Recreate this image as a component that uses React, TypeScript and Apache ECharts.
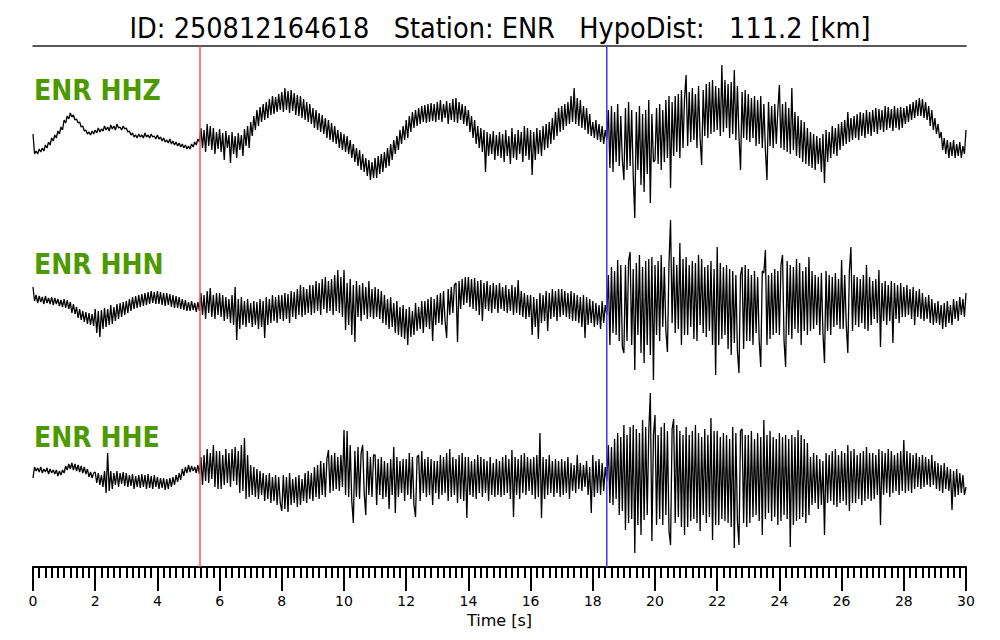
import React, { useEffect, useRef } from "react";
import * as echarts from "echarts";

// Waveform samples (relative amplitude, up = positive), one value every 0.05 s from 0 to 30 s
const SAMPLE_DT = 0.05;
const TIME_MIN = 0;
const TIME_MAX = 30;
const P_PICK = 5.37;
const S_PICK = 18.45;
const TITLE = "ID: 250812164618\u00a0\u00a0\u00a0Station: ENR\u00a0\u00a0\u00a0HypoDist:\u00a0\u00a0\u00a0111.2 [km]";
const CHANNELS = ["ENR HHZ", "ENR HHN", "ENR HHE"];

const hhz = [
  6, -14, -11, -14, -9, -12, -8, -11, -5, -8, -2, -5, 2, -1, 5, 2, 9, 6, 13, 10,
  20, 17, 24, 21, 27, 23, 25, 20, 21, 17, 18, 13, 14, 9, 10, 6, 8, 5, 9, 6,
  10, 7, 12, 8, 11, 9, 14, 10, 13, 9, 15, 11, 14, 10, 16, 12, 13, 10, 14, 11,
  12, 8, 9, 5, 7, 3, 5, 2, 6, 3, 5, 2, 7, 3, 5, 2, 6, 3, 4, 1,
  5, 1, 3, -1, 2, -2, 0, -3, 1, -4, -1, -5, -2, -6, -3, -7, -4, -8, -5, -9,
  -6, -9, -4, -7, -2, -5, 1, -2, 12, -8, 10, -12, 16, -6, 14, -10, 12, -14, 8, -9,
  11, -12, 7, -20, 9, -8, 5, -23, 8, -14, 4, -18, 7, -10, 5, -16, 11, -6, 14, -8,
  18, 4, 24, 10, 30, 14, 33, 18, 36, 20, 38, 22, 41, 25, 44, 26, 43, 28, 46, 30,
  48, 28, 52, 30, 49, 27, 50, 29, 47, 25, 45, 24, 44, 22, 41, 20, 38, 18, 36, 16,
  32, 12, 30, 10, 27, 8, 25, 6, 22, 2, 20, 0, 17, -2, 14, -4, 10, -8, 8, -10,
  6, -12, 4, -14, 0, -18, -4, -22, -8, -26, -10, -30, -14, -32, -18, -36, -20, -40, -22, -38,
  -18, -38, -16, -34, -14, -32, -12, -28, -8, -26, -4, -20, 0, -14, 4, -10, 10, -4, 14, 0,
  20, 2, 24, 8, 28, 12, 30, 14, 32, 16, 34, 18, 35, 17, 36, 18, 37, 19, 36, 18,
  38, 20, 40, 18, 36, 22, 39, 16, 37, 20, 41, 18, 42, 17, 38, 20, 36, 16, 34, 14,
  30, 8, 24, 2, 20, -4, 14, -8, 12, -12, 10, -32, 8, -16, 6, -14, 9, -20, 5, -16,
  8, -18, 6, -22, 10, -16, 4, -24, 12, -18, 6, -20, 10, -14, 8, -22, 14, -16, 12, -20,
  10, -35, 8, -20, 12, -14, 10, -16, 14, -10, 16, -8, 18, -4, 22, 0, 28, 4, 32, 8,
  34, 10, 36, 14, 38, 16, 44, 18, 52, 16, 42, 14, 40, 12, 34, 10, 32, 6, 26, 4,
  18, 2, 20, 0, 16, -2, 14, -4, 10, 0, 30, -28, 34, -32, 28, -22, 36, -26, 24, -20,
  -40, 32, -30, 38, -26, 30, -36, -78, 28, -30, 34, -45, 26, -52, 30, -34, 40, -63, 26, -22,
  -20, 32, -24, 36, -30, 30, -22, 40, -18, 44, -48, 38, -16, 44, -12, 46, -18, 50, -8, 42,
  65, -6, 48, -2, 52, 0, 46, -8, 54, 2, -25, 50, 4, 56, 2, 58, 6, 60, 8, 54,
  10, 52, 4, 75, 8, 60, 12, 56, 2, 58, 6, 70, 0, 54, 4, -30, 48, 2, 50, 0,
  46, -2, 42, 2, 44, -6, 40, -4, 44, -8, 36, -10, -40, 38, -6, 34, -8, 36, -4, 30,
  55, -8, 36, -10, 38, -12, 32, -14, 52, -10, 28, -16, 24, -18, 20, -22, 18, -24, 12, -26,
  8, -28, 6, -30, 4, -24, 2, -32, 6, -43, 10, -22, 8, -18, 14, -14, 12, -16, 16, -10,
  18, -6, 20, -4, 28, -2, 22, 0, 24, 2, 26, 0, 28, 4, 27, 2, 30, 6, 28, 4,
  30, 8, 32, 6, 31, 10, 30, 8, 34, 10, 33, 12, 31, 9, 34, 12, 32, 10, 33, 12,
  32, 16, 34, 18, 36, 20, 38, 22, 40, 24, 42, 24, 41, 22, 38, 20, 34, 14, 30, 10,
  22, 6, 16, 2, 8, -10, 2, -14, 0, -18, -2, -16, 0, -18, -4, -16, -2, -18, -6, -14,
  10,
];

const hhn = [
  18, 4, 10, 2, 9, 3, 8, 1, 9, 2, 7, 1, 8, 0, 7, 1, 6, -1, 5, -2,
  6, -3, 5, -4, 3, -8, 1, -9, -2, -13, -4, -15, -6, -17, -7, -19, -8, -20, -9, -21,
  -4, -28, -6, -32, -5, -24, -3, -22, -4, -20, 0, -19, -2, -16, 1, -14, 2, -12, 3, -10,
  4, -8, 6, -6, 8, -4, 9, -3, 10, -2, 11, -1, 12, 0, 13, 1, 14, 2, 13, 1,
  14, 1, 13, 0, 12, -1, 12, 0, 11, -2, 10, -3, 9, -3, 8, -4, 6, -5, 5, -6,
  3, -6, 4, -5, 2, -7, 3, -6, 12, -10, 10, -14, 14, -8, 17, -12, 10, -14, 12, -10,
  12, -12, 10, -16, 8, -14, 6, -18, 10, -20, 18, -35, 6, -24, 8, -20, 4, -22, 6, -18,
  2, -22, 4, -20, 3, -24, 6, -22, 4, -33, 8, -20, 6, -18, 10, -16, 8, -18, 10, -14,
  10, -16, 12, -14, 11, -18, 14, -12, 13, -14, 16, -10, 20, -12, 18, -10, 16, -8, 20, -10,
  20, -8, 24, -6, 22, -10, 26, -4, 28, -8, 24, -6, 26, -10, 30, -6, 35, -8, 28, -12,
  35, -25, 22, -20, 26, -30, 20, -37, 24, -12, 20, -16, 22, -10, 18, -14, 24, -12, 16, -14,
  18, -12, 16, -14, 14, -18, 10, -20, 6, -24, 8, -22, 2, -28, 4, -30, -2, -32, 0, -34,
  -4, -40, -2, -32, -6, -30, 2, -26, -2, -24, 4, -28, 4, -22, 6, -24, 8, -36, 6, -20,
  10, -18, 12, -20, 14, -16, -33, 16, -10, 18, -8, 20, 22, -37, 24, -4, 26, 0, 28, 2,
  28, -2, 26, -4, 27, -6, 24, -10, 25, -16, 22, -4, 24, -6, 20, -8, 22, -4, 20, -8,
  22, -4, 18, -6, 20, -8, 16, -6, 20, -10, 18, -8, 25, -10, 14, -12, 12, -14, 10, -12,
  10, -30, 8, -22, 6, -34, 12, -18, 10, -16, 14, -26, 12, -14, 16, -12, 14, -16, 16, -12,
  16, -10, 14, -12, 12, -14, 14, -16, 12, -16, 10, -18, 8, -22, 10, -33, 8, -20, 6, -18,
  4, -22, 2, -20, 0, -24, 4, -18, 0, -10, 30, -40, 38, -28, 34, -30, 45, -36, 40, -42,
  -48, 40, -36, 44, 53, -40, 36, -65, 42, -30, 50, -48, 38, -58, 44, -40, 46, -50, 48, -75,
  40, -30, 44, -36, 50, -22, 38, -26, -47, 42, 85, -18, 48, -28, 40, -24, 62, -40, 46, -30,
  48, -30, 40, -22, 44, -34, 42, -36, 50, -20, 46, -28, 38, -32, 40, -26, 44, -40, 36, -70,
  58, -40, 42, -34, 38, -30, 40, -44, 36, -50, 34, -38, 30, -46, -68, 30, 38, -44, 40, -36,
  36, -36, 30, -40, 34, -28, 28, -36, -62, 34, 32, 55, -40, 30, -34, 32, -30, 36, -28, 34,
  -30, 40, 50, -36, -62, 44, -30, 40, -34, 38, -24, 46, -28, 42, -40, 34, -26, 38, -30, 48,
  -26, 34, -24, 30, -20, 28, -30, 32, -28, -58, 34, -26, 30, -30, 28, -22, 32, -20, 26, -24,
  45, -24, 30, -20, -48, 34, 58, -26, 30, -20, 28, -22, 26, -18, 30, -24, 40, -26, 28, -20,
  24, -14, 26, -18, 35, -42, 22, -16, 24, -20, 20, -16, 24, -38, 22, -14, 20, -18, 22, -12,
  18, -12, 20, -10, 16, -14, 18, -20, 14, -12, 16, -14, 12, -16, 8, -14, 10, -18, 6, -20,
  2, -18, 4, -20, 0, -24, 2, -22, 4, -18, 0, -20, 6, -14, 4, -16, 8, -10, 6, -12,
  12,
];

const hhe = [
  -3, 8, 4, 7, 3, 8, 2, 6, 3, 7, 1, 6, 2, 5, 1, 5, -1, 4, 0, 5,
  2, 9, 5, 11, 6, 12, 5, 11, 4, 10, 3, 9, 2, 8, 1, 6, -2, 3, -3, 2,
  3, -8, 2, -10, 0, -12, 4, -18, 22, -16, 4, -14, 2, -10, 4, -12, 2, -9, 3, -11,
  2, -12, 0, -11, 1, -14, -1, -12, 0, -13, 1, -12, 0, -14, 1, -13, -1, -14, 0, -12,
  -2, -14, -3, -13, -3, -15, -4, -14, -3, -12, -2, -10, 0, -7, 2, -5, 6, -1, 8, 2,
  10, 3, 9, 4, 8, 2, 10, 1, 18, -10, 20, -6, 26, -8, 22, -4, 30, -12, 24, -14,
  24, -14, 20, -10, 26, -8, 22, -12, 26, -6, 28, -10, 24, -18, 30, -16, 37, -24, 20, -22,
  10, -20, 8, -22, 6, -24, 4, -20, 2, -26, 0, -24, 2, -28, -2, -26, 0, -30, -2, -28,
  -36, 0, -34, -2, -37, 2, -30, -4, -28, -2, -32, 0, -30, -4, -26, 2, -28, 4, -24, 2,
  -26, 8, -22, 10, -24, 14, -20, 12, -22, 16, 25, -18, 20, -16, 22, -14, 18, -16, 20, -12,
  45, -20, 44, -22, 30, -26, -48, 24, -22, 28, -24, 22, 30, -18, -40, 24, -20, 18, -22, 20,
  20, -30, 16, -20, 18, -24, 14, -22, 12, -34, 16, -20, 28, -38, 18, -22, 14, -18, 16, -26,
  16, -20, 22, -24, 18, -30, -42, 18, 20, -26, 24, -18, 16, -22, 18, -20, 16, -30, 14, -18,
  14, -24, 20, -20, 18, -18, 22, -26, 26, -22, 18, -20, 16, -28, 20, -24, 22, -26, 18, -43,
  18, -20, 14, -22, 16, -24, 20, -18, 18, -22, 16, -18, 14, -26, 18, -20, 12, -22, 16, -20,
  14, -22, 18, -20, 20, -18, 16, -24, 25, -42, 18, -20, 16, -24, 20, -18, 22, -20, 18, -16,
  16, -20, 18, -24, 20, -22, 42, -43, 18, -24, 16, -20, 20, -18, 14, -22, 16, -18, 14, -22,
  16, -20, 14, -18, 18, -24, 12, -16, 10, -18, 20, -14, 12, -16, 10, -12, 14, -20, 8, -38,
  20, -22, 14, -18, 16, -20, 12, -16, 8, -6, 30, -28, 28, -30, 36, -24, 42, -40, 38, -36,
  50, -55, 40, -48, 48, -44, 50, -78, 46, -50, 42, -60, 55, -45, 48, -40, 44, 82, -66, 40,
  60, -50, 40, -44, 48, -50, 52, -40, 44, -56, -70, 46, 56, -48, 50, -42, 44, -52, 40, -60,
  48, -52, 40, -46, 44, -44, 50, -48, 42, -56, 38, -40, 46, -48, 40, -42, 57, -65, 44, -50,
  44, -50, 38, -44, 42, -46, 40, -48, 36, -52, 48, -73, 42, -46, -70, 44, 46, -48, 40, -52,
  40, -48, 44, -42, 36, -40, 42, -46, 38, -60, 55, -44, 40, -38, 44, -46, 38, -42, 36, -50,
  42, -46, 38, -40, 40, -44, 36, -72, 40, -50, 38, -46, 45, -44, 40, -42, 36, -48, 32, -40,
  18, -30, 22, -28, 20, -34, 16, -30, 14, -60, 22, -28, 20, -26, 24, -30, 26, -32, 20, -28,
  24, -26, 22, -30, 30, -36, 24, -28, 26, -28, 20, -24, 22, -30, 24, -26, 28, -24, 22, -26,
  22, -24, 20, -20, 26, -50, 24, -20, 22, -18, 26, -22, 24, -18, 20, -16, 22, -20, 24, -16,
  35, -18, 24, -16, 22, -18, 20, -14, 22, -12, 18, -14, 20, -12, 18, -10, 16, -12, 20, -10,
  14, -14, 12, -16, 10, -18, 12, -14, 8, -16, 6, -35, 4, -22, 6, -20, 2, -18, 0, -20,
  -12,
];

const TRACES = [hhz, hhn, hhe];

const toPairs = (arr: number[]) =>
  arr.map((v, i) => [Math.round(i * SAMPLE_DT * 1000) / 1000, v]);

export default function App() {
  const ref = useRef<HTMLDivElement>(null);

  useEffect(() => {
    if (!ref.current) return;
    const chart = echarts.init(ref.current, null, { renderer: "svg" });

    const LEFT = 33;
    const RIGHT = 34;
    const traceTops = [55, 220, 390];
    const TRACE_H = 170;
    const font = "DejaVu Sans";
    const condensed = "DejaVu Sans Condensed";

    const grids: any[] = traceTops.map((t) => ({
      left: LEFT,
      right: RIGHT,
      top: t,
      height: TRACE_H,
      containLabel: false,
    }));
    grids.push({ left: LEFT, right: RIGHT, top: 46, bottom: 73, containLabel: false });

    const hiddenX = (gi: number) => ({
      type: "value",
      gridIndex: gi,
      min: TIME_MIN,
      max: TIME_MAX,
      show: false,
    });
    const hiddenY = (gi: number, mn: number, mx: number) => ({
      type: "value",
      gridIndex: gi,
      min: mn,
      max: mx,
      show: false,
    });

    const xAxes: any[] = [hiddenX(0), hiddenX(1), hiddenX(2)];
    xAxes.push({
      type: "value",
      gridIndex: 3,
      position: "bottom",
      min: TIME_MIN,
      max: TIME_MAX,
      interval: 2,
      axisLine: { show: true, onZero: false, lineStyle: { color: "#000", width: 2 } },
      axisTick: { show: true, inside: false, length: 24, lineStyle: { color: "#000", width: 2 } },
      minorTick: { show: true, splitNumber: 10, length: 11, lineStyle: { color: "#000", width: 2 } },
      splitLine: { show: false },
      minorSplitLine: { show: false },
      axisLabel: { margin: 27, fontSize: 14, color: "#000", fontFamily: font },
      name: "Time [s]",
      nameLocation: "middle",
      nameGap: 39,
      nameTextStyle: { fontSize: 16, color: "#000", fontFamily: font },
    });
    xAxes.push({
      type: "value",
      gridIndex: 3,
      position: "top",
      min: TIME_MIN,
      max: TIME_MAX,
      axisLine: { show: true, onZero: false, lineStyle: { color: "#222", width: 1.5 } },
      axisTick: { show: false },
      axisLabel: { show: false },
      splitLine: { show: false },
    });

    const yAxes: any[] = [
      hiddenY(0, -85, 85),
      hiddenY(1, -85, 85),
      hiddenY(2, -85, 85),
      hiddenY(3, 0, 1),
    ];

    const series: any[] = TRACES.map((tr, i) => ({
      type: "line",
      xAxisIndex: i,
      yAxisIndex: i,
      data: toPairs(tr),
      showSymbol: false,
      symbol: "none",
      lineStyle: { color: "#000", width: 1.3 },
      silent: true,
      z: 2,
    }));
    series.push({
      type: "line",
      xAxisIndex: 3,
      yAxisIndex: 3,
      data: [[P_PICK, 0], [P_PICK, 1]],
      symbol: "none",
      lineStyle: { color: "#ff5050", width: 1.5 },
      silent: true,
      z: 5,
    });
    series.push({
      type: "line",
      xAxisIndex: 3,
      yAxisIndex: 3,
      data: [[S_PICK, 0], [S_PICK, 1]],
      symbol: "none",
      lineStyle: { color: "#3a3aff", width: 1.5 },
      silent: true,
      z: 5,
    });

    const labelTops = [76, 250, 423];
    const graphic = CHANNELS.map((name, i) => ({
      type: "text",
      left: 34,
      top: labelTops[i],
      z: 10,
      style: {
        text: name,
        fill: "#4c9a00",
        font: `bold 28px "${condensed}", "${font}"`,
      },
    }));

    chart.setOption({
      animation: false,
      backgroundColor: "#fff",
      title: {
        text: TITLE,
        left: "center",
        top: 9,
        textStyle: {
          fontSize: 28.5,
          fontWeight: "normal",
          color: "#000",
          fontFamily: `"${condensed}", "${font}"`,
        },
      },
      grid: grids,
      xAxis: xAxes,
      yAxis: yAxes,
      series,
      graphic,
    });

    return () => chart.dispose();
  }, []);

  return (
    <div
      ref={ref}
      style={{ position: "fixed", left: 0, top: 0, width: 1000, height: 640 }}
    />
  );
}
